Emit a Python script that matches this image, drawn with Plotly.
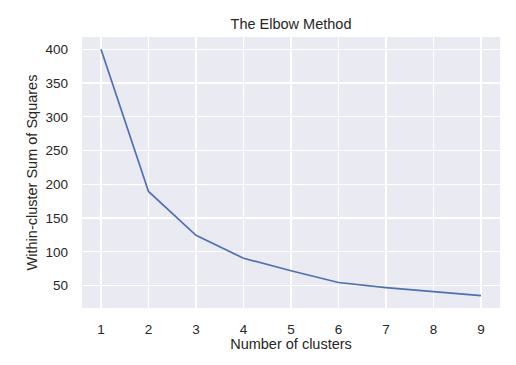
import plotly.graph_objects as go

clusters = [1, 2, 3, 4, 5, 6, 7, 8, 9]
wcss = [400, 189.5, 124.5, 90.5, 72, 54.5, 47, 40.5, 35]
x_ticks = [1, 2, 3, 4, 5, 6, 7, 8, 9]
y_ticks = [50, 100, 150, 200, 250, 300, 350, 400]

font = "Liberation Sans, Arial, sans-serif"
txt = "#262626"

fig = go.Figure()
fig.add_trace(go.Scatter(x=clusters, y=wcss, mode="lines",
                         line=dict(color="#4C72B0", width=1.7),
                         hoverinfo="skip", showlegend=False))

fig.update_layout(
    width=516, height=365,
    margin=dict(l=82, r=16, t=37, b=57),
    paper_bgcolor="white", plot_bgcolor="#EAEAF2",
    font=dict(family=font, size=13.5, color=txt),
    title=dict(text="The Elbow Method", x=0.5, xref="paper", xanchor="center",
               y=1 - 24 / 365, yanchor="middle", font=dict(size=14.5, color=txt)),
)
fig.update_xaxes(
    range=[0.6, 9.4], tickvals=x_ticks, showgrid=True, gridcolor="white",
    gridwidth=1.2, zeroline=False, showline=False, ticks="", automargin=False,
    ticklabelstandoff=11, tickfont=dict(size=13.5, color=txt),
    title=dict(text="Number of clusters", font=dict(size=14.5, color=txt), standoff=2),
)
fig.update_yaxes(
    range=[16.75, 418.25], tickvals=y_ticks, showgrid=True, gridcolor="white",
    gridwidth=1.2, zeroline=False, showline=False, ticks="", automargin=False,
    ticklabelstandoff=13, tickfont=dict(size=13.5, color=txt),
    title=dict(text="Within-cluster Sum of Squares", font=dict(size=14.5, color=txt), standoff=4),
)

fig.write_html("out.html", config={"displayModeBar": False, "staticPlot": True},
               post_script="document.body.style.margin='0';document.body.style.overflow='hidden';")
